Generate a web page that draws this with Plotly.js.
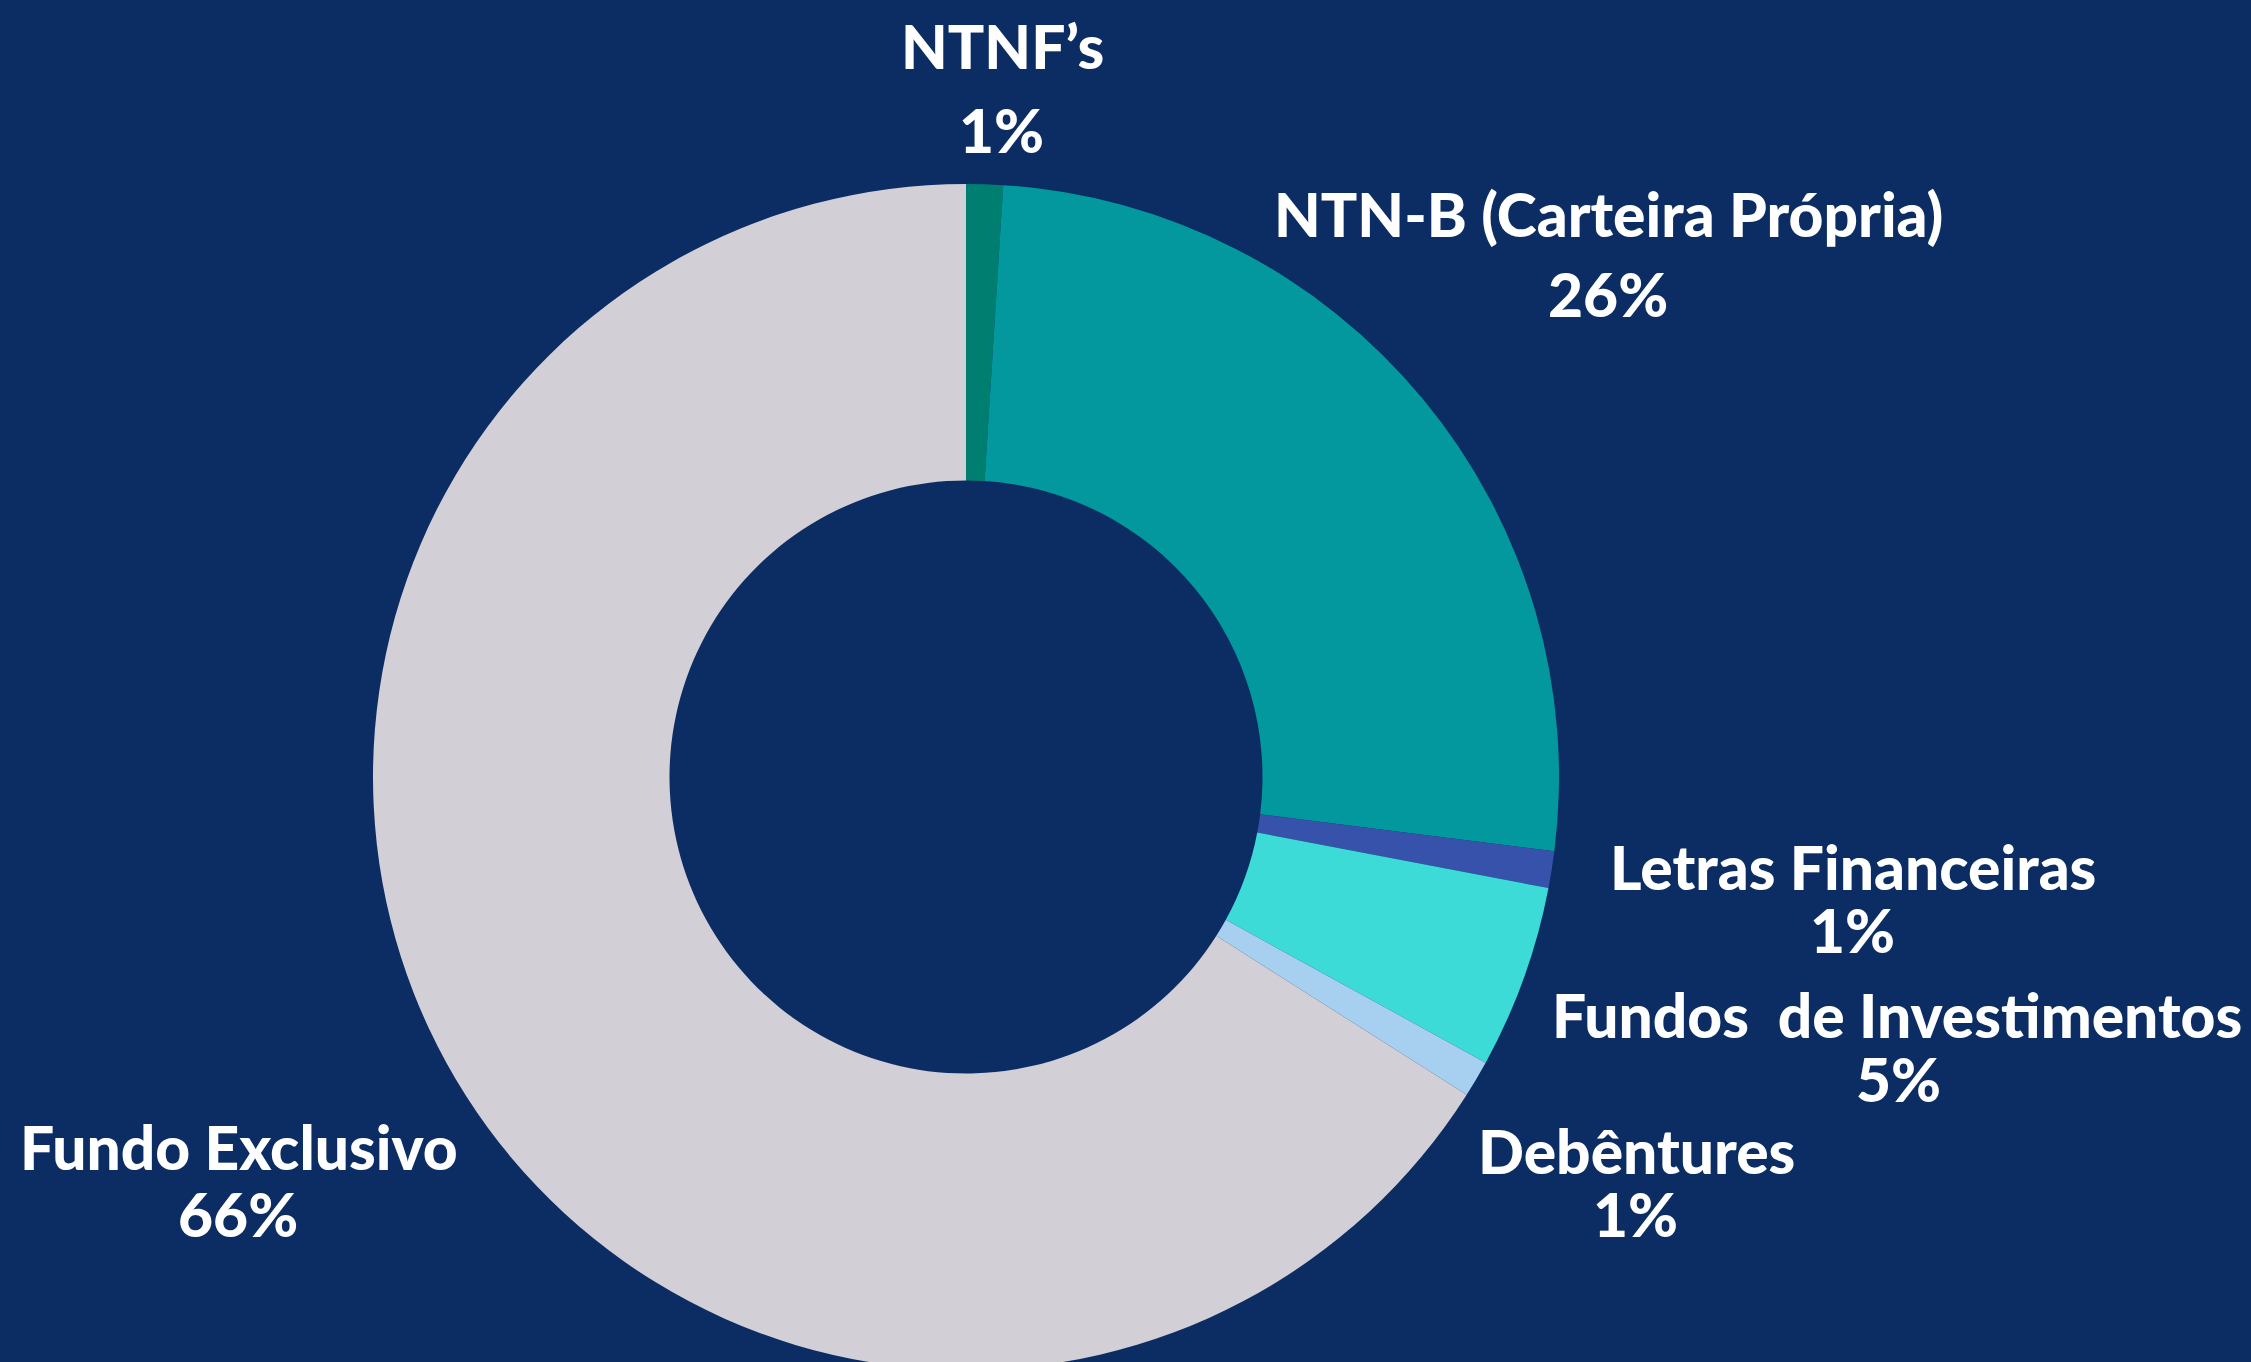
<!DOCTYPE html>
<html>
<head>
<meta charset="utf-8">
<script src="https://cdn.plot.ly/plotly-3.0.1.min.js"></script>
<style>
html,body{margin:0;padding:0;background:#0c2d63;overflow:hidden;width:2251px;height:1362px;}
#chart{width:2251px;height:1400px;}
</style>
</head>
<body>
<div id="chart"></div>
<script>
// Data
const categories = ["NTNF’s", "NTN-B (Carteira Própria)", "Letras Financeiras", "Fundos\u00a0 de Investimentos", "Debêntures", "Fundo Exclusivo"];
const shares = [1, 26, 1, 5, 1, 66];
const sliceColors = ["#007f71", "#03989e", "#3652ab", "#3ddbd7", "#a6cff0", "#d2cfd6"];

// Label placement (pixel centres of name line and percent line)
const W = 2251, H = 1400;
const namePos = [[1002, 45], [1608, 213], [1853, 866], [1897, 1014], [1636, 1150], [239, 1146]];
const pctPos  = [[1001, 129], [1608, 293], [1852, 929], [1898, 1078], [1635, 1213], [238, 1213]];
const nameBoxH = [68, null, 68, 68, 68, 68];
const pctBoxH = 50;

const total = shares.reduce((a, b) => a + b, 0);
const pctText = shares.map(v => Math.round(v / total * 100) + "%");

const font = {family: "Lato, 'Noto Sans', sans-serif", size: 60.5, color: "#ffffff", weight: 900};

const annotations = [];
categories.forEach((c, i) => {
  const a = {text: c, xref: "paper", yref: "paper", x: namePos[i][0] / W, y: (H - namePos[i][1]) / H,
    xanchor: "center", yanchor: "middle", showarrow: false, font: font, borderpad: 0};
  if (nameBoxH[i]) a.height = nameBoxH[i];
  annotations.push(a);
  annotations.push({text: pctText[i], xref: "paper", yref: "paper", x: pctPos[i][0] / W, y: (H - pctPos[i][1]) / H,
    xanchor: "center", yanchor: "middle", showarrow: false, font: font, height: pctBoxH, borderpad: 0});
});

const cx = 966, cy = 777, r = 593;
const trace = {
  type: "pie",
  labels: categories,
  values: shares,
  hole: 0.5,
  sort: false,
  direction: "clockwise",
  rotation: 0,
  textinfo: "none",
  hoverinfo: "label+percent",
  marker: {colors: sliceColors, line: {width: 0}},
  domain: {x: [(cx - r) / W, (cx + r) / W], y: [(H - cy - r) / H, (H - cy + r) / H]},
  showlegend: false
};

const layout = {
  width: W, height: H,
  margin: {l: 0, r: 0, t: 0, b: 0},
  paper_bgcolor: "#0c2d63",
  plot_bgcolor: "#0c2d63",
  showlegend: false,
  annotations: annotations
};

Plotly.newPlot("chart", [trace], layout, {displayModeBar: false, staticPlot: true});
</script>
</body>
</html>
